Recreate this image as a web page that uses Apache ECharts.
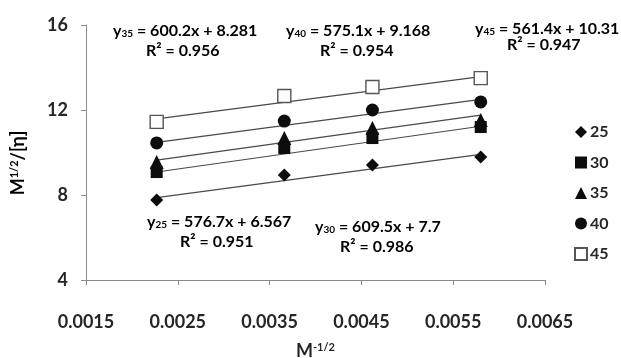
<!DOCTYPE html>
<html>
<head>
<meta charset="utf-8">
<script src="https://cdn.jsdelivr.net/npm/echarts@6/dist/echarts.min.js"></script>
<style>
  html, body { margin: 0; padding: 0; background: #fff; }
  #chart { width: 621px; height: 358px; }
</style>
</head>
<body>
<div id="chart"></div>
<script>
// M^-1/2 at each measured molecular weight
const xValues = [0.00227, 0.00366, 0.00462, 0.00580];

// M^1/2/[eta] at each temperature
const temperatures = ['25', '30', '35', '40', '45'];
const y25 = [7.76, 8.94, 9.41, 9.79];
const y30 = [9.08, 10.21, 10.68, 11.20];
const y35 = [9.55, 10.68, 11.15, 11.53];
const y40 = [10.45, 11.48, 12.00, 12.38];
const y45 = [11.44, 12.66, 13.08, 13.50];

// linear fits y = slope * x + intercept
const slopes = [576.7, 609.5, 600.2, 575.1, 561.4];
const intercepts = [6.567, 7.7, 8.281, 9.168, 10.31];
const r2 = ['0.951', '0.986', '0.956', '0.954', '0.947'];

const xTicks = { min: 0.0015, max: 0.0065, step: 0.001 };
const yTicks = { min: 4, max: 16, step: 4 };

const seriesValues = [y25, y30, y35, y40, y45];
const symbols = ['diamond', 'rect', 'triangle', 'circle', 'rect'];
const symbolSizes = [13, 12, 14, 13, 13];

const FONT = 'Lato';
const INK = '#262626';
const AXIS = '#8a8a8a';

const chart = echarts.init(document.getElementById('chart'), null, { renderer: 'canvas' });

const series = [];
temperatures.forEach((t, i) => {
  const xs = [xValues[0], xValues[xValues.length - 1]];
  series.push({
    type: 'line',
    name: 'fit' + t,
    data: xs.map(x => [x, slopes[i] * x + intercepts[i]]),
    symbol: 'none',
    lineStyle: { color: '#4a4a4a', width: 1.2 },
    silent: true,
    z: 1
  });
});
temperatures.forEach((t, i) => {
  const open = i === 4;
  series.push({
    type: 'scatter',
    name: t,
    data: xValues.map((x, k) => [x, seriesValues[i][k]]),
    symbol: symbols[i],
    symbolSize: symbolSizes[i],
    itemStyle: open
      ? { color: '#fff', borderColor: '#555', borderWidth: 1.4, opacity: 1 }
      : { color: '#0d0d0d', opacity: 1 },
    z: 3 + i
  });
});

const rich = {
  b: { fontFamily: FONT, fontWeight: 'bold', fontSize: 16, color: INK },
  s: { fontFamily: FONT, fontWeight: 'bold', fontSize: 10, color: INK, verticalAlign: 'bottom', padding: [6, 0, 0, 0] }
};

function equation(i, x, y, rx, ry) {
  const t = temperatures[i];
  return [
    {
      type: 'text', left: x, top: y,
      style: {
        text: '{b|y}{s|' + t + '}{b| = ' + slopes[i] + 'x + ' + intercepts[i] + '}',
        rich: rich
      }
    },
    {
      type: 'text', left: rx, top: ry,
      style: { text: '{b|R² = ' + r2[i] + '}', rich: rich }
    }
  ];
}

const nameRich = {
  b: { fontFamily: FONT, fontWeight: 'bold', fontSize: 18, color: INK },
  p: { fontFamily: FONT, fontWeight: 'bold', fontSize: 11, color: INK, verticalAlign: 'top', padding: [0, 0, 7, 0] }
};

// vertical axis title, rotated to read bottom-to-top
const yTitle = {
  type: 'text',
  x: 18,
  y: 163,
  rotation: Math.PI / 2,
  style: {
    text: '{b|M}{p|1/2}{b|/[η]}',
    rich: nameRich,
    align: 'center',
    verticalAlign: 'middle'
  }
};

const graphics = [].concat(
  equation(2, 113, 23, 146, 43),
  equation(3, 286, 23, 320, 43),
  equation(4, 475, 21, 507, 37),
  equation(0, 147, 214, 180, 234),
  equation(1, 315, 219, 340, 239),
  [yTitle]
);

chart.setOption({
  animation: false,
  backgroundColor: '#fff',
  grid: { left: 86, right: 76, top: 25, bottom: 78, containLabel: false, outerBoundsMode: 'none' },
  legend: {
    data: temperatures,
    orient: 'vertical',
    left: 569,
    top: 119,
    itemWidth: 12,
    itemHeight: 12,
    itemGap: 14.5,
    textStyle: { fontFamily: FONT, fontWeight: 'bold', fontSize: 16, color: INK, padding: [0, 0, 0, -2] }
  },
  xAxis: {
    type: 'value',
    min: xTicks.min,
    max: xTicks.max,
    interval: xTicks.step,
    name: '{b|M}{p|-1/2}',
    nameLocation: 'middle',
    nameGap: 62,
    nameTextStyle: { rich: nameRich },
    axisLine: { show: true, lineStyle: { color: AXIS, width: 1 } },
    axisTick: { show: true, inside: false, length: 5, lineStyle: { color: AXIS } },
    splitLine: { show: false },
    axisLabel: {
      margin: 33,
      fontFamily: FONT, fontWeight: 'bold', fontSize: 18, color: INK,
      formatter: v => v.toFixed(4)
    }
  },
  yAxis: {
    type: 'value',
    min: yTicks.min,
    max: yTicks.max,
    interval: yTicks.step,
    axisLine: { show: true, lineStyle: { color: AXIS, width: 1 } },
    axisTick: { show: true, inside: false, length: 5, lineStyle: { color: AXIS } },
    splitLine: { show: false },
    axisLabel: {
      margin: 18,
      fontFamily: FONT, fontWeight: 'bold', fontSize: 18, color: INK
    }
  },
  graphic: graphics,
  series: series
});
</script>
</body>
</html>
